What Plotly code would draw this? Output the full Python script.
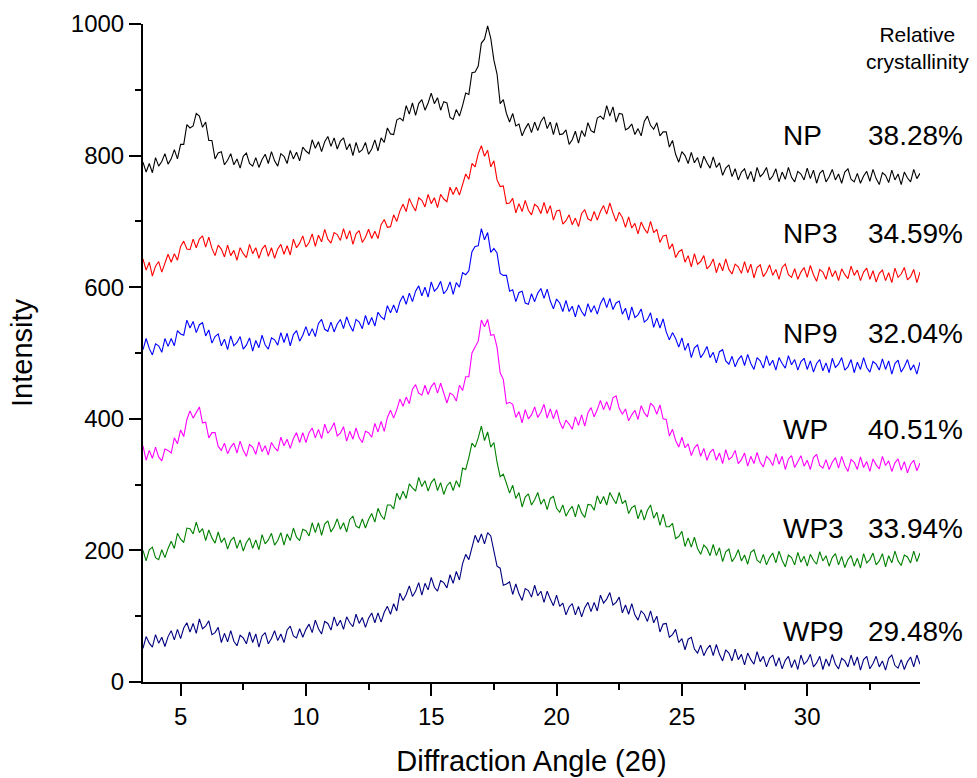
import plotly.graph_objects as go

# x grid: 3.5 .. 34.5 in 0.125 deg steps (one row below = one degree)
X_START = 3.5
X_STEP = 0.125

NP = [790, 775, 788, 774,
      797, 784, 791, 803, 787, 795, 809, 795,
      817, 817, 847, 842, 845, 864, 860, 843,
      851, 823, 823, 795, 804, 806, 786, 793,
      803, 786, 795, 781, 799, 804, 788, 784,
      797, 782, 794, 802, 788, 806, 792, 784,
      803, 799, 788, 808, 795, 805, 792, 813,
      807, 803, 824, 811, 821, 806, 821, 829,
      814, 827, 810, 822, 827, 809, 818, 800,
      820, 805, 809, 820, 802, 810, 824, 807,
      827, 820, 842, 833, 832, 854, 857, 853,
      876, 863, 880, 861, 879, 885, 869, 880,
      895, 879, 888, 869, 882, 880, 858, 855,
      870, 860, 876, 895, 893, 926, 927, 936,
      971, 977, 997, 978, 945, 924, 879, 885,
      864, 851, 864, 845, 848, 830, 841, 849,
      835, 851, 838, 852, 859, 841, 851, 832,
      850, 832, 833, 839, 817, 824, 837, 819,
      838, 829, 850, 838, 835, 857, 860, 855,
      876, 860, 874, 851, 864, 863, 839, 842,
      848, 832, 841, 830, 852, 860, 846, 840,
      850, 830, 836, 836, 813, 823, 802, 790,
      806, 800, 788, 805, 789, 797, 781, 799,
      789, 781, 798, 782, 789, 770, 781, 786,
      768, 780, 763, 775, 780, 764, 776, 760,
      782, 768, 773, 782, 763, 769, 780, 760,
      775, 764, 782, 767, 760, 776, 772, 763,
      781, 765, 778, 758, 773, 778, 760, 768,
      779, 763, 772, 758, 775, 780, 764, 760,
      773, 758, 769, 776, 761, 779, 765, 756,
      774, 770, 759, 778, 763, 772, 756, 775,
      766, 760, 779, 765, 773]

NP3 = [643, 626, 638, 617,
       632, 639, 623, 635, 650, 638, 651, 641,
       662, 670, 658, 657, 673, 660, 673, 678,
       661, 676, 659, 648, 664, 658, 646, 664,
       648, 656, 641, 660, 651, 645, 665, 651,
       660, 644, 658, 664, 647, 660, 644, 658,
       665, 650, 663, 649, 673, 660, 667, 678,
       661, 668, 681, 662, 679, 669, 688, 673,
       667, 683, 680, 671, 689, 673, 686, 665,
       681, 686, 668, 676, 688, 674, 685, 674,
       695, 703, 691, 692, 710, 700, 716, 726,
       715, 735, 724, 716, 736, 732, 722, 741,
       727, 736, 721, 741, 734, 730, 752, 741,
       752, 740, 758, 772, 764, 788, 783, 803,
       815, 799, 808, 783, 792, 763, 753, 754,
       727, 728, 735, 713, 727, 715, 732, 717,
       710, 726, 722, 712, 729, 712, 724, 702,
       716, 717, 696, 701, 710, 695, 705, 692,
       712, 718, 704, 701, 715, 702, 715, 724,
       711, 728, 713, 700, 714, 706, 691, 707,
       690, 697, 681, 699, 689, 682, 700, 683,
       688, 668, 678, 679, 658, 666, 645, 654,
       657, 638, 648, 631, 651, 635, 639, 648,
       628, 633, 643, 622, 637, 625, 643, 627,
       620, 635, 631, 621, 639, 622, 635, 614,
       630, 634, 616, 623, 634, 618, 627, 612,
       630, 635, 619, 615, 628, 612, 623, 630,
       615, 633, 619, 609, 627, 623, 612, 631,
       616, 625, 610, 628, 619, 613, 632, 618,
       626, 610, 623, 629, 612, 625, 608, 621,
       626, 610, 622, 607, 629, 615, 620, 630,
       611, 616, 627, 607, 623]

NP9 = [505, 522, 507, 497,
       514, 511, 501, 522, 510, 522, 511, 534,
       529, 527, 550, 538, 548, 531, 543, 546,
       526, 535, 515, 525, 529, 511, 521, 505,
       526, 511, 516, 525, 506, 512, 523, 503,
       519, 508, 527, 512, 506, 523, 520, 512,
       531, 516, 530, 511, 528, 534, 518, 527,
       540, 526, 537, 525, 545, 551, 536, 533,
       547, 532, 544, 551, 537, 555, 542, 533,
       551, 547, 537, 557, 543, 554, 541, 562,
       555, 551, 572, 561, 573, 561, 578, 587,
       574, 591, 578, 594, 602, 587, 600, 585,
       608, 594, 599, 609, 590, 596, 608, 589,
       607, 600, 622, 619, 625, 654, 662, 663,
       689, 672, 683, 653, 659, 652, 621, 618,
       618, 594, 596, 578, 592, 594, 576, 574,
       590, 578, 591, 598, 583, 597, 579, 567,
       582, 576, 563, 580, 563, 571, 555, 573,
       563, 556, 575, 562, 572, 559, 575, 584,
       569, 583, 566, 576, 579, 559, 568, 550,
       570, 554, 558, 567, 547, 551, 561, 539,
       553, 538, 552, 532, 520, 531, 522, 509,
       523, 504, 515, 493, 508, 512, 493, 500,
       510, 493, 501, 485, 502, 505, 488, 483,
       495, 479, 490, 496, 481, 498, 484, 475,
       493, 488, 477, 496, 481, 489, 474, 493,
       484, 477, 496, 482, 490, 474, 487, 492,
       475, 488, 471, 484, 490, 473, 485, 470,
       492, 478, 483, 493, 474, 479, 490, 470,
       486, 475, 493, 478, 471, 487, 483, 474,
       491, 475, 488, 468, 484, 489, 471, 479,
       490, 474, 482, 468, 486]

WP = [359, 337, 352, 340,
      357, 342, 336, 354, 352, 348, 371, 362,
      383, 373, 399, 412, 401, 409, 418, 394,
      395, 371, 379, 379, 358, 352, 363, 347,
      357, 363, 348, 366, 352, 343, 361, 357,
      346, 365, 350, 359, 345, 364, 356, 351,
      372, 359, 369, 355, 370, 379, 364, 379,
      364, 379, 386, 371, 384, 370, 392, 378,
      384, 394, 374, 378, 388, 366, 381, 369,
      386, 371, 364, 381, 379, 372, 393, 380,
      396, 381, 402, 413, 401, 414, 430, 419,
      433, 423, 445, 452, 439, 436, 451, 437,
      449, 455, 439, 454, 437, 424, 439, 436,
      427, 451, 443, 464, 464, 500, 509, 518,
      550, 540, 551, 527, 528, 509, 470, 460,
      423, 425, 422, 402, 411, 394, 414, 400,
      406, 418, 402, 410, 422, 401, 415, 400,
      414, 395, 385, 398, 392, 384, 403, 390,
      406, 389, 409, 417, 403, 414, 428, 414,
      426, 413, 432, 435, 416, 407, 415, 397,
      406, 413, 399, 420, 409, 403, 424, 419,
      407, 421, 400, 399, 374, 384, 367, 357,
      372, 356, 362, 344, 356, 361, 343, 355,
      337, 349, 354, 337, 348, 332, 353, 338,
      342, 352, 332, 338, 348, 328, 343, 332,
      349, 334, 327, 343, 338, 329, 347, 331,
      343, 323, 339, 344, 326, 334, 344, 328,
      337, 323, 341, 346, 329, 325, 338, 323,
      334, 341, 325, 343, 329, 320, 338, 334,
      323, 342, 326, 335, 320, 339, 330, 324,
      343, 329, 336, 320, 333, 339, 322, 335,
      318, 331, 337, 321, 333]

WP3 = [200, 184, 201, 205,
       189, 186, 201, 189, 203, 214, 203, 226,
       217, 212, 234, 233, 225, 243, 227, 233,
       215, 231, 219, 211, 228, 212, 219, 202,
       215, 220, 203, 216, 199, 212, 219, 203,
       216, 201, 224, 210, 216, 226, 208, 215,
       227, 208, 225, 215, 234, 220, 215, 232,
       230, 222, 242, 227, 242, 223, 240, 245,
       228, 236, 248, 232, 242, 228, 247, 252,
       237, 234, 248, 234, 247, 256, 243, 264,
       253, 247, 269, 269, 263, 287, 277, 290,
       279, 301, 295, 290, 311, 297, 306, 290,
       303, 309, 291, 303, 285, 298, 304, 291,
       306, 296, 325, 323, 341, 363, 357, 371,
       389, 367, 380, 357, 364, 334, 312, 316,
       302, 287, 299, 279, 288, 266, 281, 286,
       269, 277, 288, 270, 278, 262, 279, 282,
       264, 258, 269, 252, 261, 267, 251, 270,
       257, 250, 270, 269, 261, 283, 271, 282,
       269, 288, 279, 271, 288, 271, 276, 256,
       265, 268, 248, 262, 246, 261, 269, 249,
       258, 238, 255, 236, 236, 241, 218, 221,
       229, 206, 219, 205, 220, 203, 194, 208,
       203, 192, 209, 192, 204, 183, 198, 202,
       183, 190, 201, 184, 193, 179, 197, 201,
       185, 181, 194, 178, 189, 196, 181, 199,
       185, 175, 193, 189, 178, 197, 182, 191,
       176, 194, 185, 179, 198, 184, 192, 176,
       189, 195, 178, 191, 174, 186, 192, 176,
       188, 173, 195, 181, 186, 196, 178, 184,
       195, 175, 192, 181, 199, 184, 177, 193,
       190, 181, 199, 183, 196]

WP9 = [51, 69, 59, 53,
       72, 59, 68, 54, 69, 78, 64, 80,
       66, 82, 90, 76, 89, 74, 96, 81,
       85, 93, 72, 75, 83, 60, 74, 61,
       78, 62, 55, 71, 67, 58, 76, 60,
       73, 53, 70, 75, 58, 66, 78, 63,
       73, 60, 79, 85, 70, 67, 81, 68,
       80, 88, 75, 94, 81, 73, 92, 89,
       79, 99, 85, 94, 80, 99, 90, 84,
       103, 89, 98, 83, 97, 105, 90, 105,
       91, 106, 115, 103, 119, 108, 135, 124,
       133, 146, 130, 138, 151, 132, 150, 140,
       159, 144, 138, 154, 151, 143, 163, 150,
       168, 155, 180, 194, 186, 203, 223, 212,
       225, 210, 227, 222, 196, 176, 173, 147,
       149, 152, 133, 149, 134, 124, 142, 139,
       129, 147, 131, 138, 121, 138, 126, 116,
       132, 115, 120, 102, 114, 119, 102, 115,
       99, 113, 121, 107, 121, 108, 132, 120,
       126, 136, 117, 121, 129, 105, 117, 103,
       119, 102, 94, 108, 103, 92, 108, 90,
       100, 76, 88, 89, 68, 72, 80, 60,
       66, 49, 65, 68, 50, 44, 56, 40,
       50, 56, 40, 57, 42, 32, 49, 44,
       32, 50, 34, 42, 26, 44, 34, 27,
       46, 31, 39, 23, 36, 41, 24, 37,
       20, 33, 39, 22, 34, 19, 41, 27,
       32, 42, 23, 29, 39, 19, 35, 24,
       42, 27, 20, 36, 32, 23, 41, 25,
       38, 18, 34, 39, 20, 28, 39, 23,
       32, 18, 36, 41, 25, 21, 34, 19,
       31, 38, 23, 41, 27]

SAMPLES = ["NP", "NP3", "NP9", "WP", "WP3", "WP9"]
CRYSTALLINITY = ["38.28%", "34.59%", "32.04%", "40.51%", "33.94%", "29.48%"]
SERIES = [NP, NP3, NP9, WP, WP3, WP9]
COLORS = ["#000000", "#ff0000", "#0000ff", "#ff00ff", "#008000", "#000080"]
LABEL_Y = [0.830, 0.682, 0.530, 0.383, 0.234, 0.076]  # paper coords

X_TICKS = [5, 10, 15, 20, 25, 30]
X_MINOR = [7.5, 12.5, 17.5, 22.5, 27.5, 32.5]

FONT = "Liberation Sans, Arial, sans-serif"

fig = go.Figure()
for name, ys, col in zip(SAMPLES, SERIES, COLORS):
    xs = [X_START + X_STEP * i for i in range(len(ys))]
    fig.add_trace(go.Scatter(x=xs, y=ys, mode="lines", name=name,
                             line=dict(color=col, width=1.1)))

annotations = []
for name, cr, yy in zip(SAMPLES, CRYSTALLINITY, LABEL_Y):
    annotations.append(dict(xref="paper", yref="paper", x=0.821, y=yy,
                            text=name, showarrow=False, xanchor="left",
                            yanchor="middle", font=dict(size=28, color="black", family=FONT)))
    annotations.append(dict(xref="paper", yref="paper", x=0.9305, y=yy,
                            text=cr, showarrow=False, xanchor="left",
                            yanchor="middle", font=dict(size=28, color="black", family=FONT)))
annotations.append(dict(xref="paper", yref="paper", x=0.997, y=0.964,
                        text="Relative<br>crystallinity", showarrow=False,
                        xanchor="center", yanchor="middle",
                        font=dict(size=21, color="black", family=FONT)))

fig.update_layout(
    width=977, height=778,
    margin=dict(l=143, r=57, t=24, b=96),
    plot_bgcolor="white", paper_bgcolor="white",
    showlegend=False,
    font=dict(family=FONT, color="black"),
    annotations=annotations,
    xaxis=dict(range=[3.5, 34.5], tickvals=X_TICKS, ticks="outside", ticklen=12,
               tickwidth=2, tickcolor="black", showline=True, linewidth=2,
               linecolor="black", showgrid=False, zeroline=False, automargin=False,
               tickfont=dict(size=24),
               minor=dict(tickvals=X_MINOR, ticks="outside", ticklen=6,
                          tickwidth=2, tickcolor="black", showgrid=False),
               title=dict(text="Diffraction Angle (2θ)", font=dict(size=29), standoff=22)),
    yaxis=dict(range=[0, 1000], dtick=200, ticks="outside", ticklen=12,
               tickwidth=2, tickcolor="black", showline=True, linewidth=2,
               linecolor="black", showgrid=False, zeroline=False, automargin=False,
               tickfont=dict(size=24),
               minor=dict(dtick=100, ticks="outside", ticklen=6,
                          tickwidth=2, tickcolor="black", showgrid=False),
               title=dict(text="Intensity", font=dict(size=29), standoff=30)),
)

fig.write_html("out.html")
